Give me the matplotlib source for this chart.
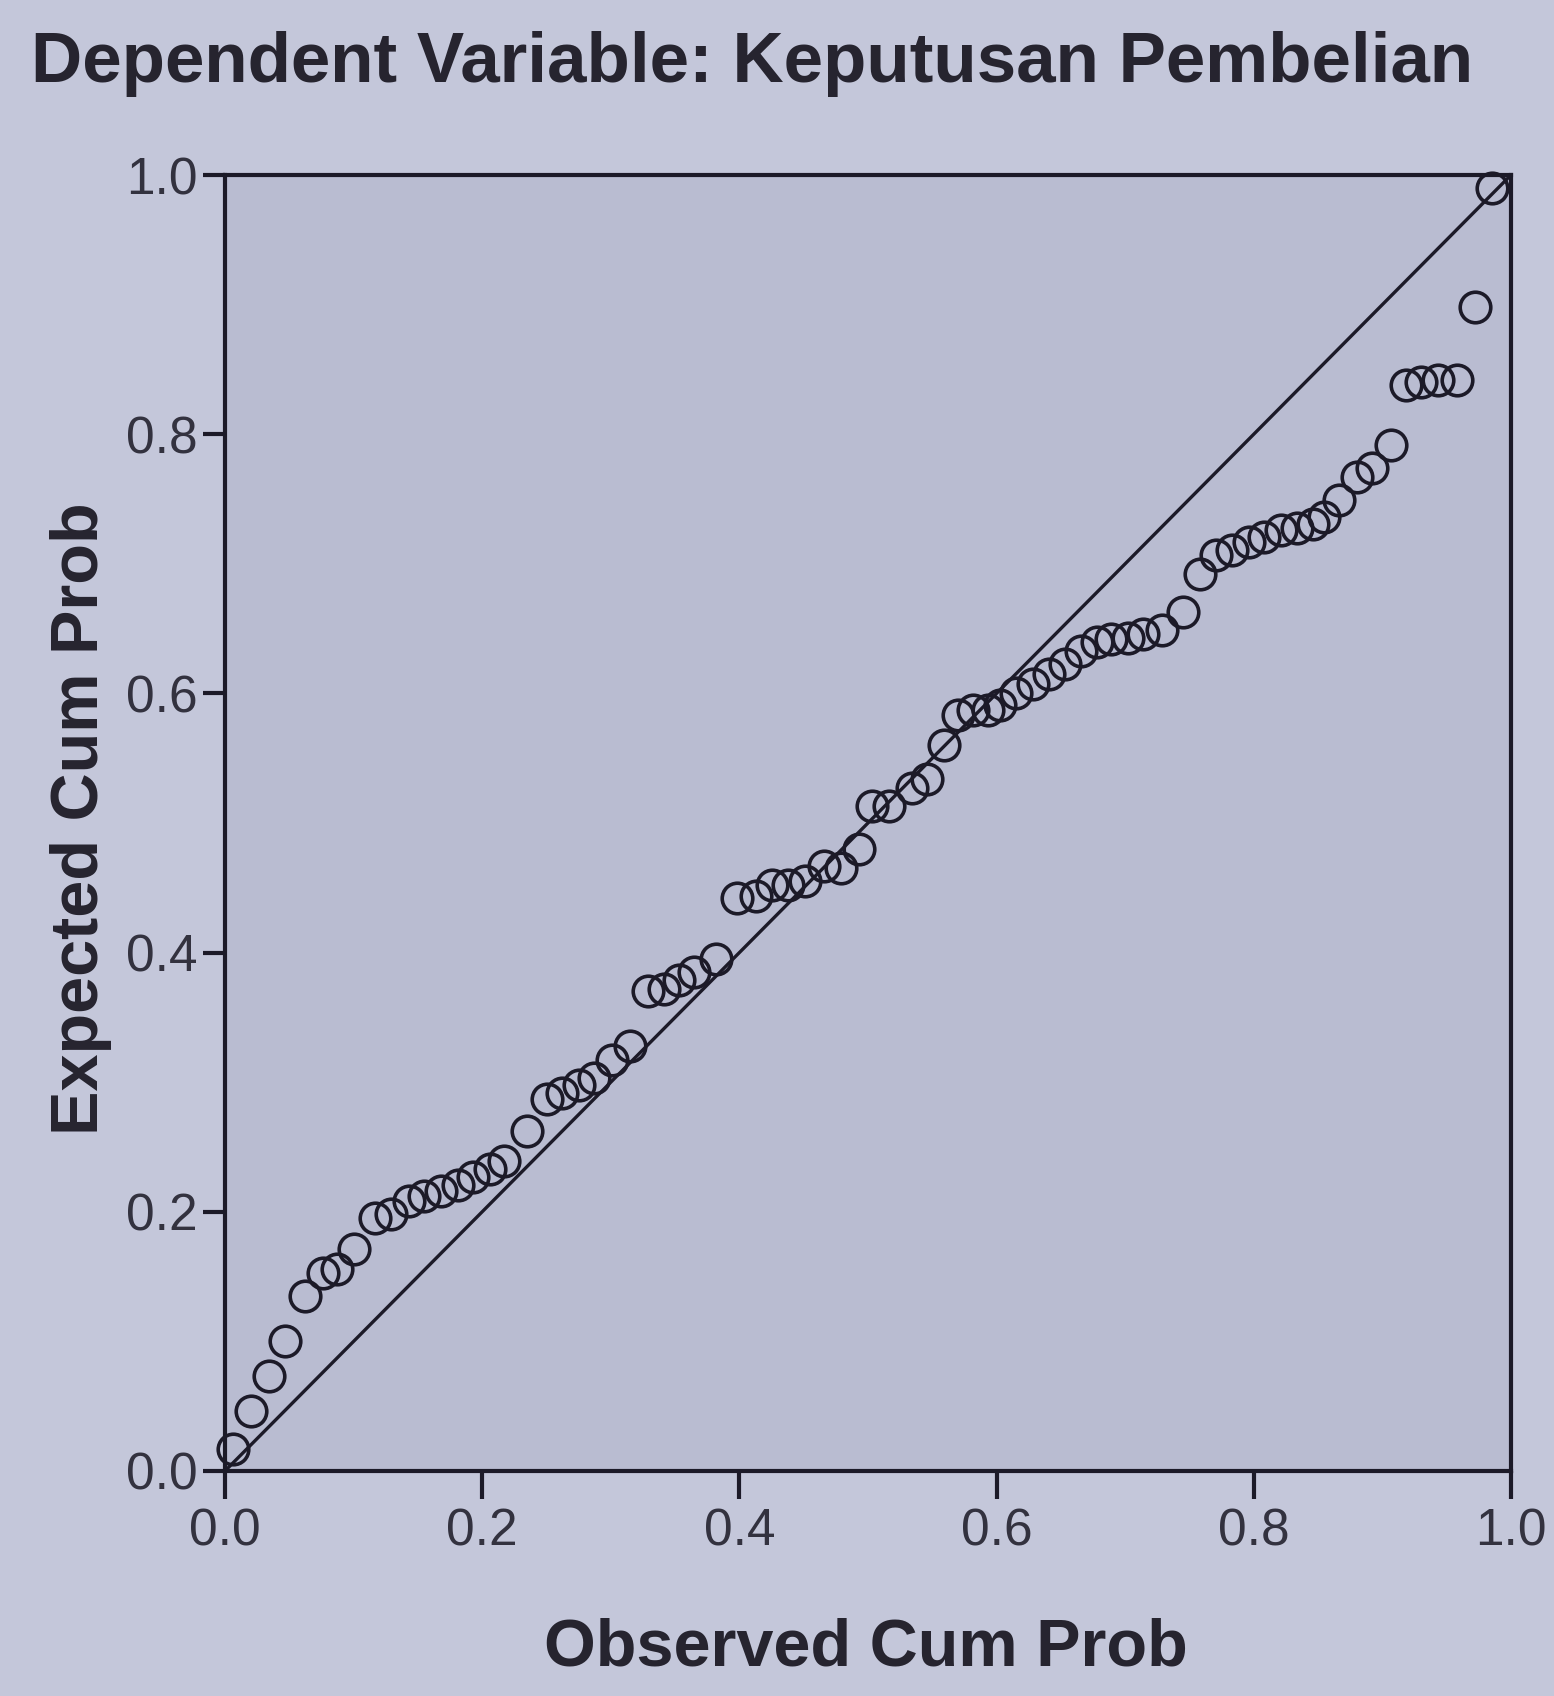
import numpy as np
import matplotlib
matplotlib.use('Agg')
import matplotlib.pyplot as plt

# Normal P-P plot of regression standardized residual
observed = [0.006, 0.020, 0.034, 0.047, 0.062, 0.076, 0.087, 0.100, 0.117, 0.129,
            0.143, 0.155, 0.168, 0.181, 0.193, 0.206, 0.217, 0.235, 0.250, 0.262,
            0.275, 0.287, 0.301, 0.315, 0.329, 0.341, 0.353, 0.365, 0.382, 0.398,
            0.413, 0.425, 0.438, 0.451, 0.466, 0.479, 0.493, 0.503, 0.516, 0.534,
            0.546, 0.559, 0.570, 0.582, 0.593, 0.603, 0.615, 0.628, 0.641, 0.653,
            0.666, 0.678, 0.689, 0.702, 0.714, 0.729, 0.745, 0.758, 0.771, 0.783,
            0.796, 0.808, 0.821, 0.834, 0.846, 0.855, 0.866, 0.880, 0.892, 0.907,
            0.918, 0.930, 0.943, 0.958, 0.972, 0.985]
expected = [0.017, 0.046, 0.073, 0.100, 0.135, 0.153, 0.156, 0.171, 0.195, 0.198,
            0.208, 0.212, 0.216, 0.221, 0.227, 0.233, 0.239, 0.262, 0.287, 0.292,
            0.298, 0.303, 0.317, 0.328, 0.370, 0.372, 0.379, 0.385, 0.395, 0.442,
            0.444, 0.452, 0.452, 0.455, 0.467, 0.465, 0.480, 0.513, 0.513, 0.527,
            0.534, 0.560, 0.583, 0.587, 0.587, 0.591, 0.600, 0.607, 0.615, 0.623,
            0.633, 0.640, 0.642, 0.643, 0.646, 0.649, 0.663, 0.692, 0.707, 0.711,
            0.717, 0.721, 0.726, 0.728, 0.731, 0.736, 0.749, 0.767, 0.774, 0.792,
            0.838, 0.840, 0.842, 0.842, 0.898, 0.990]
ticks = [0.0, 0.2, 0.4, 0.6, 0.8, 1.0]
tick_labels = ['0.0', '0.2', '0.4', '0.6', '0.8', '1.0']

ink = '#1c1a28'
sans = ['Liberation Sans', 'DejaVu Sans']

fig = plt.figure(figsize=(15.54, 16.96), dpi=100)
fig.patch.set_facecolor('#c4c7da')
ax = fig.add_axes([0.1448, 0.1327, 0.8275, 0.7641])
ax.set_facecolor('#b9bcd1')

ax.plot([0, 1], [0, 1], color=ink, lw=2.4, zorder=2)
ax.plot(observed, expected, 'o', mfc='none', mec=ink, mew=2.6, ms=22,
        zorder=3, clip_on=False)

ax.set_xlim(0, 1)
ax.set_ylim(0, 1)
ax.set_xticks(ticks)
ax.set_yticks(ticks)
ax.set_xticklabels(tick_labels, family=sans, fontsize=37, color='#33323f')
ax.set_yticklabels(tick_labels, family=sans, fontsize=37, color='#33323f')
ax.tick_params(axis='x', direction='out', length=20, width=3, color=ink, pad=6)
ax.tick_params(axis='y', direction='out', length=16, width=3, color=ink, pad=4)
for s in ax.spines.values():
    s.set_linewidth(3)
    s.set_color(ink)

fig.text(0.02, 0.962, 'Dependent Variable: Keputusan Pembelian', family=sans,
         fontweight='bold', fontsize=51, color='#26242f', ha='left', va='center')
fig.text(0.557, 0.028, 'Observed Cum Prob', family=sans, fontweight='bold',
         fontsize=48, color='#26242f', ha='center', va='center')
fig.text(0.052, 0.517, 'Expected Cum Prob', family=sans, fontweight='bold',
         fontsize=48, color='#26242f', ha='center', va='center', rotation=90)

fig.savefig('out.png', dpi=100, facecolor=fig.get_facecolor())
